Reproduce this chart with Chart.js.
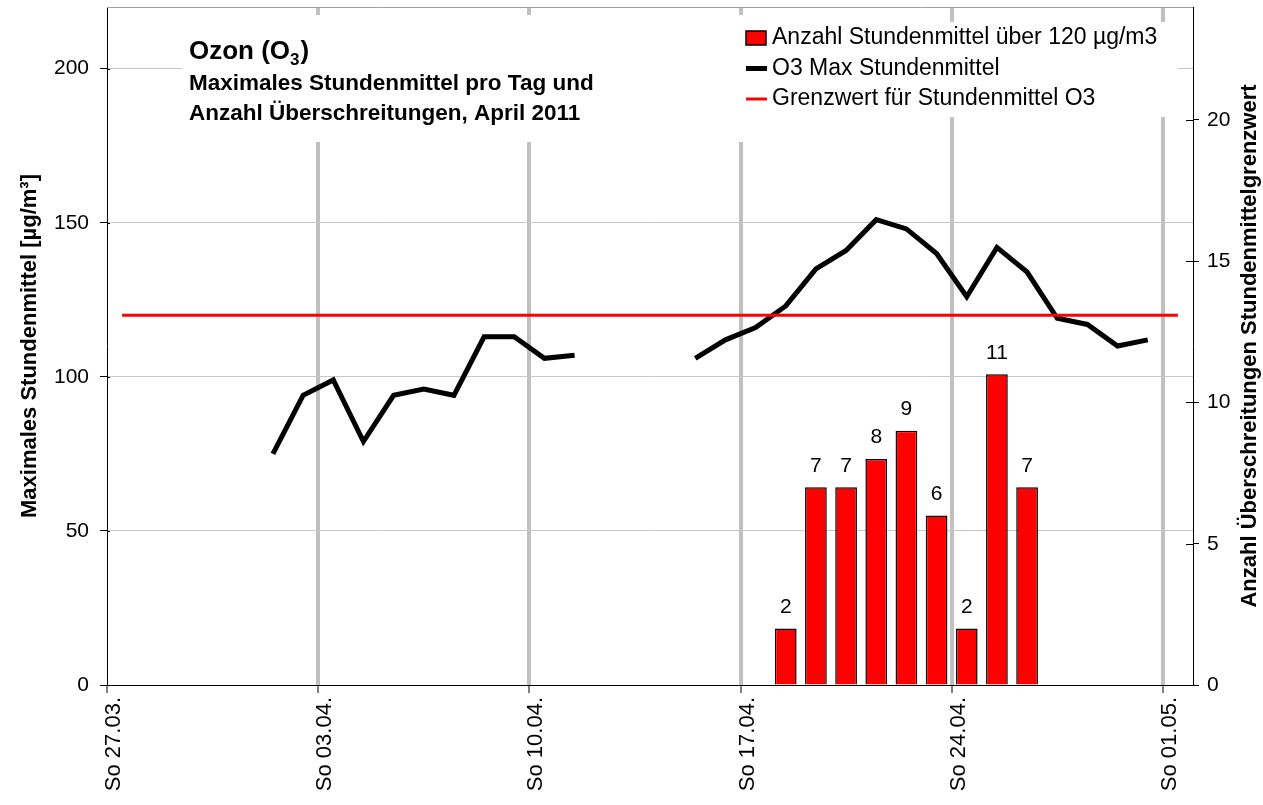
<!DOCTYPE html>
<html>
<head>
<meta charset="utf-8">
<title>Ozon April 2011</title>
<script src="https://cdn.jsdelivr.net/npm/chart.js@4.4.1/dist/chart.umd.min.js"></script>
<style>
  html, body { margin: 0; padding: 0; background: #fff; }
</style>
</head>
<body>
<canvas id="chart" width="1263" height="805"></canvas>
<script>
const FONT = "'Liberation Sans', Arial, Helvetica, sans-serif";

// one entry per day, So 27.03. .. So 01.05.2011
const days = [
    "27.03.", "28.03.", "29.03.", "30.03.", "31.03.",
    "01.04.", "02.04.", "03.04.", "04.04.", "05.04.", "06.04.", "07.04.", "08.04.", "09.04.", "10.04.",
    "11.04.", "12.04.", "13.04.", "14.04.", "15.04.", "16.04.", "17.04.", "18.04.", "19.04.", "20.04.",
    "21.04.", "22.04.", "23.04.", "24.04.", "25.04.", "26.04.", "27.04.", "28.04.", "29.04.", "30.04.",
    "01.05.",
];

// O3 max. Stundenmittel [µg/m3], null = no value
const o3Max = [
    null, null, null, null, null,
    75, 94, 99, 79, 94, 96, 94, 113, 113, 106,
    107, null, null, null, 106, 112, 116, 123, 135, 141,
    151, 148, 140, 126, 142, 134, 119, 117, 110, 112,
    null,
];

// Anzahl Stundenmittel über 120 µg/m3
const exceedances = [
    null, null, null, null, null,
    null, null, null, null, null, null, null, null, null, null,
    null, null, null, null, null, null, null, 2, 7, 7,
    8, 9, 6, 2, 11, 7, null, null, null, null,
    null,
];

const limitValue = 120;

const tickDays = [0, 7, 14, 21, 28, 35];
const weekLabels = ["So 27.03.", "So 03.04.", "So 10.04.", "So 17.04.", "So 24.04.", "So 01.05."];
const leftTicks = [0, 50, 100, 150, 200];
const rightTicks = [0, 5, 10, 15, 20];

const legendItems = [
    { text: "Anzahl Stundenmittel über 120 µg/m3", kind: "box", color: "#ff0000" },
    { text: "O3 Max Stundenmittel", kind: "line", color: "#000000", width: 5 },
    { text: "Grenzwert für Stundenmittel O3", kind: "line", color: "#ff0000", width: 3 },
];

// points sit in the middle of their day
const atNoon = (values) => values.map((v, i) => ({ x: i + 0.5, y: v }));

const overlayPlugin = {
    id: "overlay",
    beforeDatasetsDraw(chart) {
        const { ctx, chartArea: area, scales } = chart;
        ctx.save();

        // grey frame line on top of the plot area
        ctx.strokeStyle = "#a0a0a0";
        ctx.lineWidth = 1;
        ctx.beginPath();
        ctx.moveTo(area.left, area.top + 0.5);
        ctx.lineTo(area.right, area.top + 0.5);
        ctx.stroke();

        // tick marks also reach a bit into the plot (crossing ticks)
        ctx.strokeStyle = "#000";
        ctx.beginPath();
        leftTicks.forEach(v => {
            const y = Math.round(scales.y.getPixelForValue(v)) + 0.5;
            ctx.moveTo(area.left, y);
            ctx.lineTo(area.left + 3, y);
        });
        rightTicks.forEach(v => {
            const y = Math.round(scales.yR.getPixelForValue(v)) + 0.5;
            ctx.moveTo(area.right - 7, y);
            ctx.lineTo(area.right, y);
        });
        ctx.stroke();

        // white boxes for title and legend hide the grid
        ctx.fillStyle = "#fff";
        ctx.fillRect(area.left + 75, area.top + 8, 566, 127);
        ctx.fillRect(area.left + 638, area.top + 15, 433, 95);

        // title
        ctx.fillStyle = "#000";
        ctx.textAlign = "left";
        ctx.textBaseline = "alphabetic";
        let x = area.left + 82;
        ctx.font = "bold 26px " + FONT;
        ctx.fillText("Ozon (O", x, 59);
        x += ctx.measureText("Ozon (O").width;
        ctx.font = "bold 17px " + FONT;
        ctx.fillText("3", x, 65);
        x += ctx.measureText("3").width + 1;
        ctx.font = "bold 26px " + FONT;
        ctx.fillText(")", x, 59);

        ctx.font = "bold 22.5px " + FONT;
        ctx.fillText("Maximales Stundenmittel pro Tag und", area.left + 82, 90);
        ctx.fillText("Anzahl Überschreitungen, April 2011", area.left + 82, 120);

        // legend
        ctx.font = "23px " + FONT;
        ctx.textBaseline = "middle";
        legendItems.forEach((item, i) => {
            const cy = 38 + i * 30.5;
            const sx = area.left + 639;
            if(item.kind === "box") {
                ctx.fillStyle = item.color;
                ctx.fillRect(sx, cy - 7, 20, 14);
                ctx.strokeStyle = "#000";
                ctx.lineWidth = 1.5;
                ctx.strokeRect(sx, cy - 7, 20, 14);
            } else {
                ctx.strokeStyle = item.color;
                ctx.lineWidth = item.width;
                ctx.beginPath();
                ctx.moveTo(sx, cy);
                ctx.lineTo(sx + 21, cy);
                ctx.stroke();
            }
            ctx.fillStyle = "#000";
            ctx.fillText(item.text, sx + 26, cy);
        });

        // right axis title, reads bottom to top
        ctx.save();
        ctx.translate(1250, (area.top + area.bottom) / 2);
        ctx.rotate(-Math.PI / 2);
        ctx.textAlign = "center";
        ctx.font = "bold 22px " + FONT;
        ctx.fillText("Anzahl Überschreitungen Stundenmittelgrenzwert", 0, 0);
        ctx.restore();

        ctx.restore();
    },
    afterDatasetsDraw(chart) {
        const { ctx } = chart;
        const meta = chart.getDatasetMeta(2);
        ctx.save();
        ctx.fillStyle = "#000";
        ctx.font = "21px " + FONT;
        ctx.textAlign = "center";
        ctx.textBaseline = "bottom";
        meta.data.forEach((bar, i) => {
            const value = exceedances[i];
            if(value === null) {
                return;
            }
            ctx.fillText(String(value), bar.x, bar.y - 11);
        });
        ctx.restore();
    },
};

const transparent = "rgba(0,0,0,0)";

// keep the plot area where the reference has it
const fitWidth = (w) => (scale) => {
    scale.width = w;
    scale.paddingTop = 0;
    scale.paddingBottom = 0;
};

new Chart(document.getElementById("chart"), {
    type: "line",
    data: {
        datasets: [
            {
                label: "Grenzwert für Stundenmittel O3",
                data: atNoon(days.map(() => limitValue)),
                yAxisID: "y",
                borderColor: "#ff0000",
                borderWidth: 3,
                pointRadius: 0,
                order: 0,
            },
            {
                label: "O3 Max Stundenmittel",
                data: atNoon(o3Max),
                yAxisID: "y",
                borderColor: "#000000",
                borderWidth: 5,
                borderJoinStyle: "miter",
                pointRadius: 0,
                spanGaps: false,
                order: 1,
            },
            {
                type: "bar",
                label: "Anzahl Stundenmittel über 120 µg/m3",
                data: atNoon(exceedances),
                yAxisID: "yR",
                backgroundColor: "#ff0000",
                borderColor: "#000000",
                borderWidth: 1.5,
                barPercentage: 0.9,
                categoryPercentage: 0.8,
                order: 2,
            },
        ],
    },
    options: {
        responsive: false,
        animation: false,
        devicePixelRatio: 1,
        layout: { padding: { top: 7, left: 0, right: 0, bottom: 0 } },
        plugins: {
            legend: { display: false },
            tooltip: { enabled: false },
        },
        scales: {
            x: {
                type: "linear",
                min: 0,
                max: 36,
                offset: false,
                afterBuildTicks: (scale) => { scale.ticks = tickDays.map(v => ({ value: v })); },
                afterFit: (scale) => {
                    scale.height = 120;
                    scale.paddingLeft = 0;
                    scale.paddingRight = 0;
                },
                ticks: {
                    autoSkip: false,
                    minRotation: 90,
                    maxRotation: 90,
                    padding: 4,
                    labelOffset: 7,
                    color: "#000",
                    font: { family: FONT, size: 22 },
                    callback: (value, index) => weekLabels[index],
                },
                grid: {
                    offset: false,
                    color: (c) => (c.tick && c.tick.value > 0 ? "#c0c0c0" : transparent),
                    lineWidth: 4,
                    tickColor: "#000",
                    tickWidth: 1,
                    tickLength: 8,
                },
                border: { color: "#000", width: 1 },
            },
            y: {
                type: "linear",
                position: "left",
                min: 0,
                max: 220,
                afterBuildTicks: (scale) => { scale.ticks = leftTicks.map(v => ({ value: v })); },
                afterFit: fitWidth(107),
                ticks: {
                    padding: 11,
                    color: "#000",
                    font: { family: FONT, size: 21 },
                },
                grid: {
                    color: (c) => (c.tick && c.tick.value > 0 ? "#c8c8c8" : transparent),
                    lineWidth: 1,
                    tickColor: "#000",
                    tickLength: 7,
                },
                border: { color: "#000", width: 1 },
                title: {
                    display: true,
                    text: "Maximales Stundenmittel [µg/m³]",
                    color: "#000",
                    font: { family: FONT, size: 22, weight: "bold" },
                    padding: { top: 17, bottom: 0 },
                },
            },
            yR: {
                type: "linear",
                position: "right",
                min: 0,
                max: 24,
                afterBuildTicks: (scale) => { scale.ticks = rightTicks.map(v => ({ value: v })); },
                afterFit: fitWidth(70),
                ticks: {
                    padding: 8,
                    color: "#000",
                    font: { family: FONT, size: 21 },
                },
                grid: {
                    drawOnChartArea: false,
                    tickColor: "#000",
                    tickLength: 6,
                },
                border: { color: "#000", width: 1 },
            },
        },
    },
    plugins: [overlayPlugin],
});
</script>
</body>
</html>
